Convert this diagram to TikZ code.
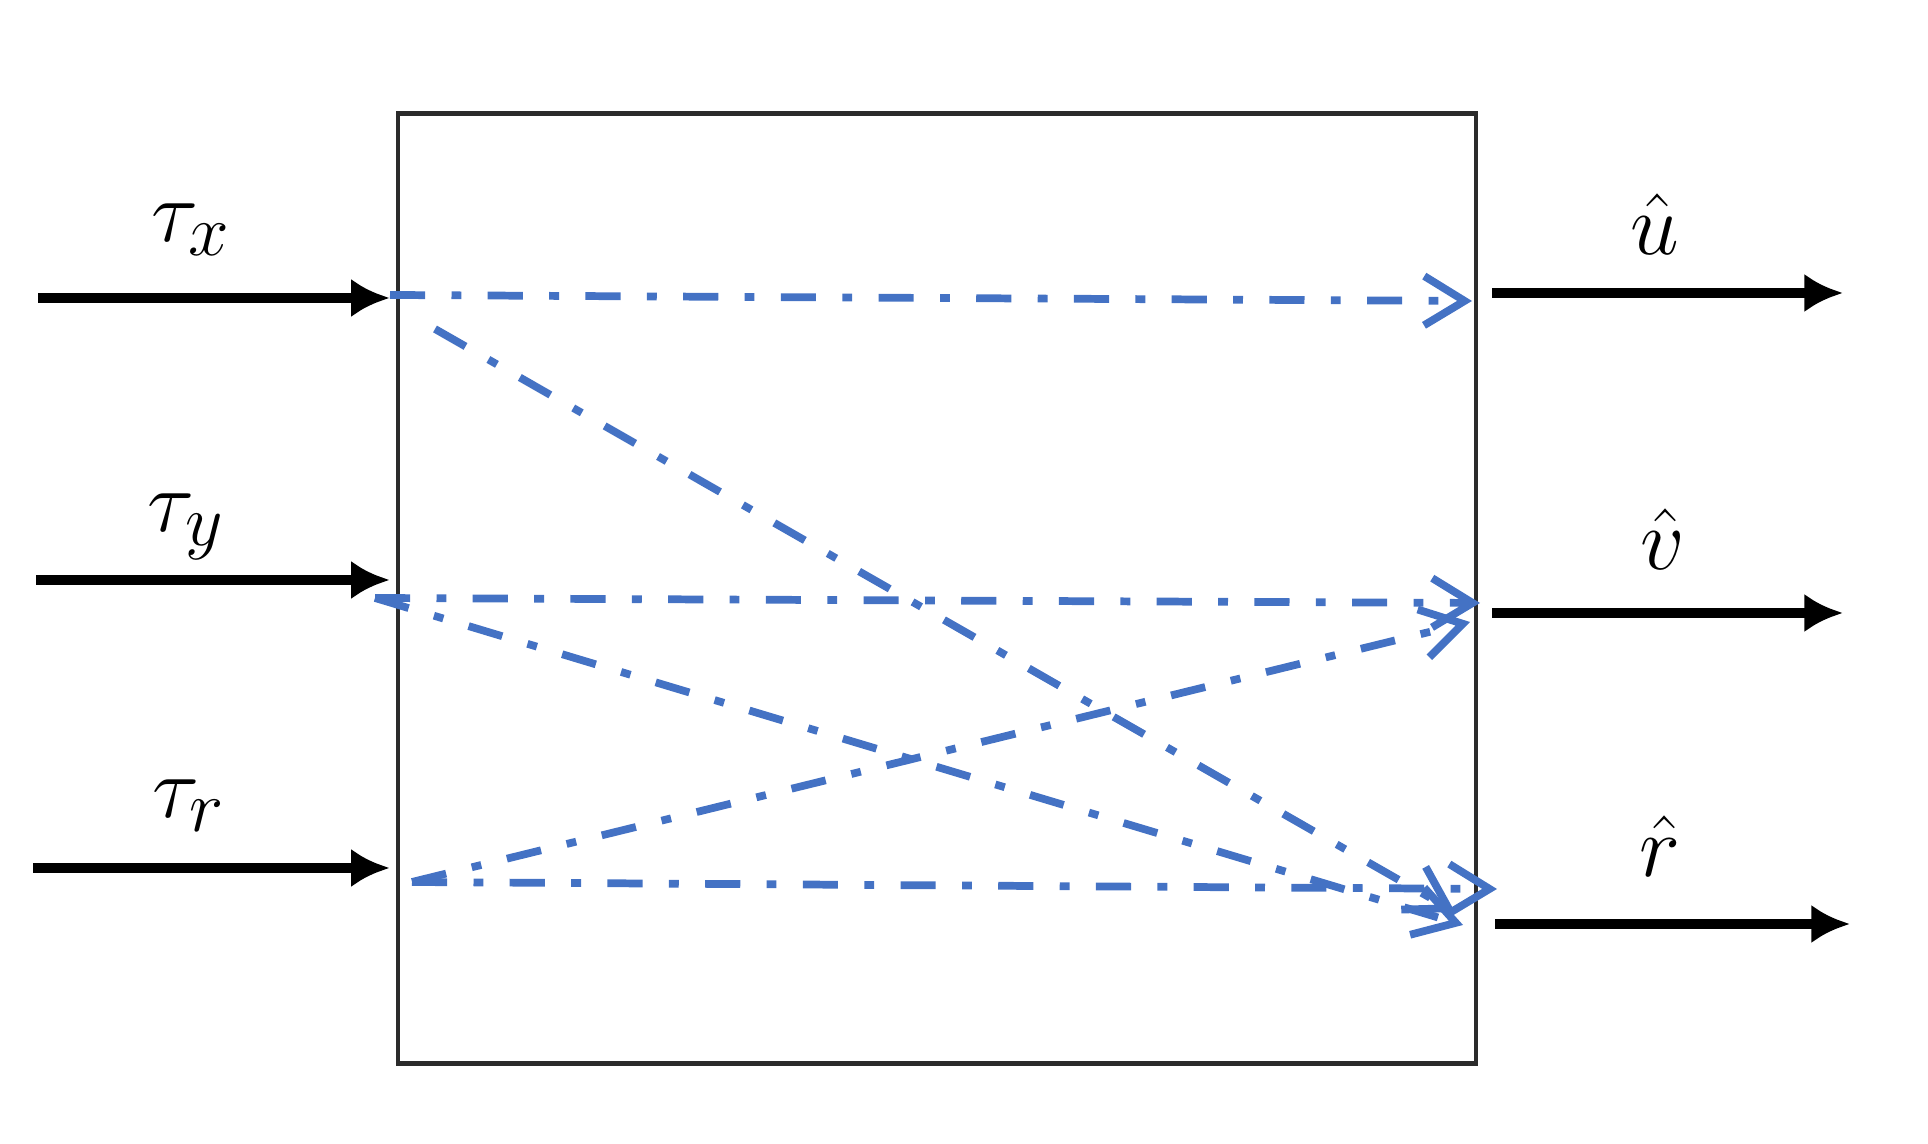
\documentclass[tikz,border=0pt]{standalone}
\usetikzlibrary{positioning,arrows.meta}
\definecolor{linkblue}{HTML}{4472C4}
\definecolor{boxgray}{HTML}{2B2B2B}

\begin{document}
\begin{tikzpicture}[
  blk/.style={draw=boxgray,line width=1.3pt,minimum width=10.78cm,minimum height=9.5cm},
  sig/.style={-{Latex[length=11pt,width=11pt]},line width=2.6pt},
  link/.style={draw=linkblue,line width=2.2pt,dash pattern=on 10pt off 7.5pt on 2.8pt off 7.5pt,
    -{Straight Barb[length=11.5pt,width=14pt]}},
  lbl/.style={anchor=base,font=\fontsize{29}{35}\selectfont}
]
\useasboundingbox (0,0) rectangle (19.28,11.44);

\node[blk] (sys) at (9.37,5.555) {};

% inputs
\coordinate (tx) at (0.38,8.46);
\coordinate (ty) at (0.36,5.64);
\coordinate (tr) at (0.33,2.76);
\node[lbl] (ltx) at (1.91,9.02) {$\tau_x$};
\node[lbl] (lty) at (1.86,6.12) {$\tau_y$};
\node[lbl] (ltr) at (1.89,3.26) {$\tau_r$};

\draw[sig,shorten >=1.7pt] (tx) -- (tx -| sys.west);
\draw[sig,shorten >=1.7pt] (ty) -- (ty -| sys.west);
\draw[sig,shorten >=1.7pt] (tr) -- (tr -| sys.west);

% outputs
\coordinate (u0) at (14.92,8.51);
\coordinate (u1) at (18.43,8.51);
\coordinate (v0) at (14.92,5.31);
\coordinate (v1) at (18.43,5.31);
\coordinate (r0) at (14.95,2.20);
\coordinate (r1) at (18.50,2.20);
\node[lbl] (lu) at (16.55,8.89) {$\hat{u}$};
\node[lbl] (lv) at (16.63,5.74) {$\hat{v}$};
\node[lbl] (lr) at (16.60,2.67) {$\hat{r}$};

\draw[sig] (u0) -- (u1);
\draw[sig] (v0) -- (v1);
\draw[sig] (r0) -- (r1);

% couplings
\coordinate (sx) at (3.90,8.49);
\coordinate (sx2) at (4.35,8.15);
\coordinate (sy) at (3.75,5.46);
\coordinate (sr) at (4.12,2.62);
\coordinate (eu) at (14.72,8.43);
\coordinate (ev) at (14.80,5.41);
\coordinate (ev2) at (14.70,5.22);
\coordinate (er) at (14.97,2.55);
\coordinate (er2) at (14.55,2.32);
\coordinate (er3) at (14.63,2.19);

\draw[link] (sx) -- (eu);
\draw[link] (sx2) -- (er2);
\draw[link] (sy) -- (ev);
\draw[link] (sy) -- (er3);
\draw[link] (sr) -- (ev2);
\draw[link] (sr) -- (er);

\end{tikzpicture}
\end{document}
